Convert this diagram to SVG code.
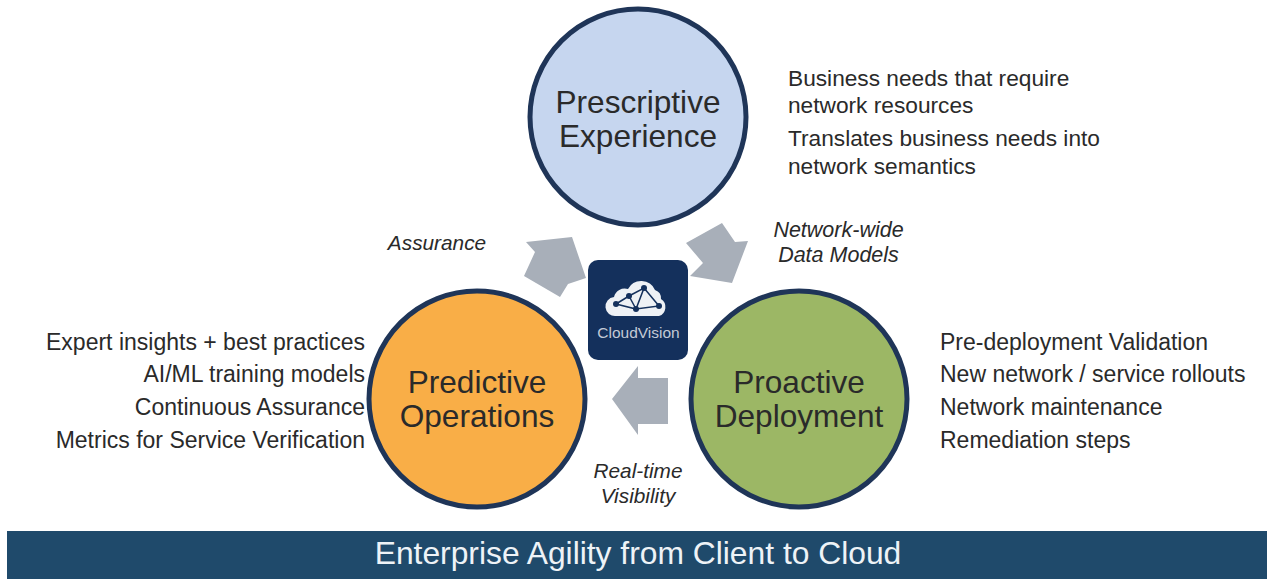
<svg xmlns="http://www.w3.org/2000/svg" width="1267" height="579" viewBox="0 0 1267 579">
<style>
text{font-family:"Liberation Sans",Arial,sans-serif;fill:#2a2a2a}
.c{stroke:#1f3558;stroke-width:5}
.t{font-size:31.600px;text-anchor:middle}
.d{font-size:23px}
.e{font-size:22.700px}
.r{text-anchor:end}
.i{font-size:20.800px;font-style:italic;text-anchor:middle}
.w{font-size:21.500px}
.a{fill:#a8afb9}
.l{stroke:#14305c;stroke-width:1.500}
.n{fill:#14305c}
</style>
<rect width="1267" height="579" fill="#fff"/>
<g id="connectors">
<polygon class="a" points="526,242 572,237 586,278 568,284 560,297 524,276 535,252"/>
<polygon class="a" points="722,223 735,242 748,241 732,283 690,276 703,263 686,243"/>
<polygon class="a" points="638,366 638,378 668,378 668,424 638,424 638,435 612,399"/>
</g>
<g id="prescriptive"><circle class="c" cx="638" cy="117" r="108" fill="#c6d6ef"/><text class="t" x="638" y="113">Prescriptive</text><text class="t" x="638" y="147">Experience</text></g>
<g id="predictive"><circle class="c" cx="477" cy="399" r="108" fill="#f9ae47"/><text class="t" x="477" y="393">Predictive</text><text class="t" x="477" y="427">Operations</text></g>
<g id="proactive"><circle class="c" cx="799" cy="399" r="108" fill="#9cb765"/><text class="t" x="799" y="393">Proactive</text><text class="t" x="799" y="427">Deployment</text></g>
<g id="cloudvision"><rect x="588" y="260" width="100" height="100" rx="10" fill="#14305c"/>
<path fill="#eef1f5" d="M616 316 a9.500 9.500 0 0 1 -2 -19 a11 11 0 0 1 14 -8 a15 15 0 0 1 27 1 a9 9 0 0 1 6 9 a9.500 9.500 0 0 1 -2 17 Z"/>
<path class="l" fill="none" d="M616 304 L629 296 L644 288 L636 309 L616 304 M629 296 L636 309 L659 306 L644 288"/>
<circle class="n" cx="616" cy="304" r="3"/><circle class="n" cx="629" cy="296" r="3"/><circle class="n" cx="644" cy="288" r="3"/><circle class="n" cx="636" cy="309" r="3"/><circle class="n" cx="659" cy="306" r="3"/>
<text x="638.500" y="338" font-size="15.500" text-anchor="middle" style="fill:#c3cad6">CloudVision</text></g>
<g id="text-top"><text class="e" x="788" y="86">Business needs that require</text><text class="e" x="788" y="113">network resources</text><text class="e" x="788" y="146">Translates business needs into</text><text class="e" x="788" y="174">network semantics</text></g>
<g id="text-left"><text class="d r" x="365" y="350">Expert insights + best practices</text><text class="d r" x="365" y="382">AI/ML training models</text><text class="d r" x="365" y="415">Continuous Assurance</text><text class="d r" x="365" y="448">Metrics for Service Verification</text></g>
<g id="text-right"><text class="d" x="940" y="350">Pre-deployment Validation</text><text class="d" x="940" y="382">New network / service rollouts</text><text class="d" x="940" y="415">Network maintenance</text><text class="d" x="940" y="448">Remediation steps</text></g>
<g id="labels"><text class="i" x="437" y="250">Assurance</text><text class="i w" x="838.500" y="237">Network-wide</text><text class="i w" x="838.500" y="262">Data Models</text><text class="i" x="638" y="478">Real-time</text><text class="i" x="638" y="503">Visibility</text></g>
<g id="banner"><rect x="7" y="531" width="1260" height="48" fill="#1f4a6b"/><text x="638" y="564" font-size="31.800" text-anchor="middle" style="fill:#eef3f7">Enterprise Agility from Client to Cloud</text></g>
</svg>
